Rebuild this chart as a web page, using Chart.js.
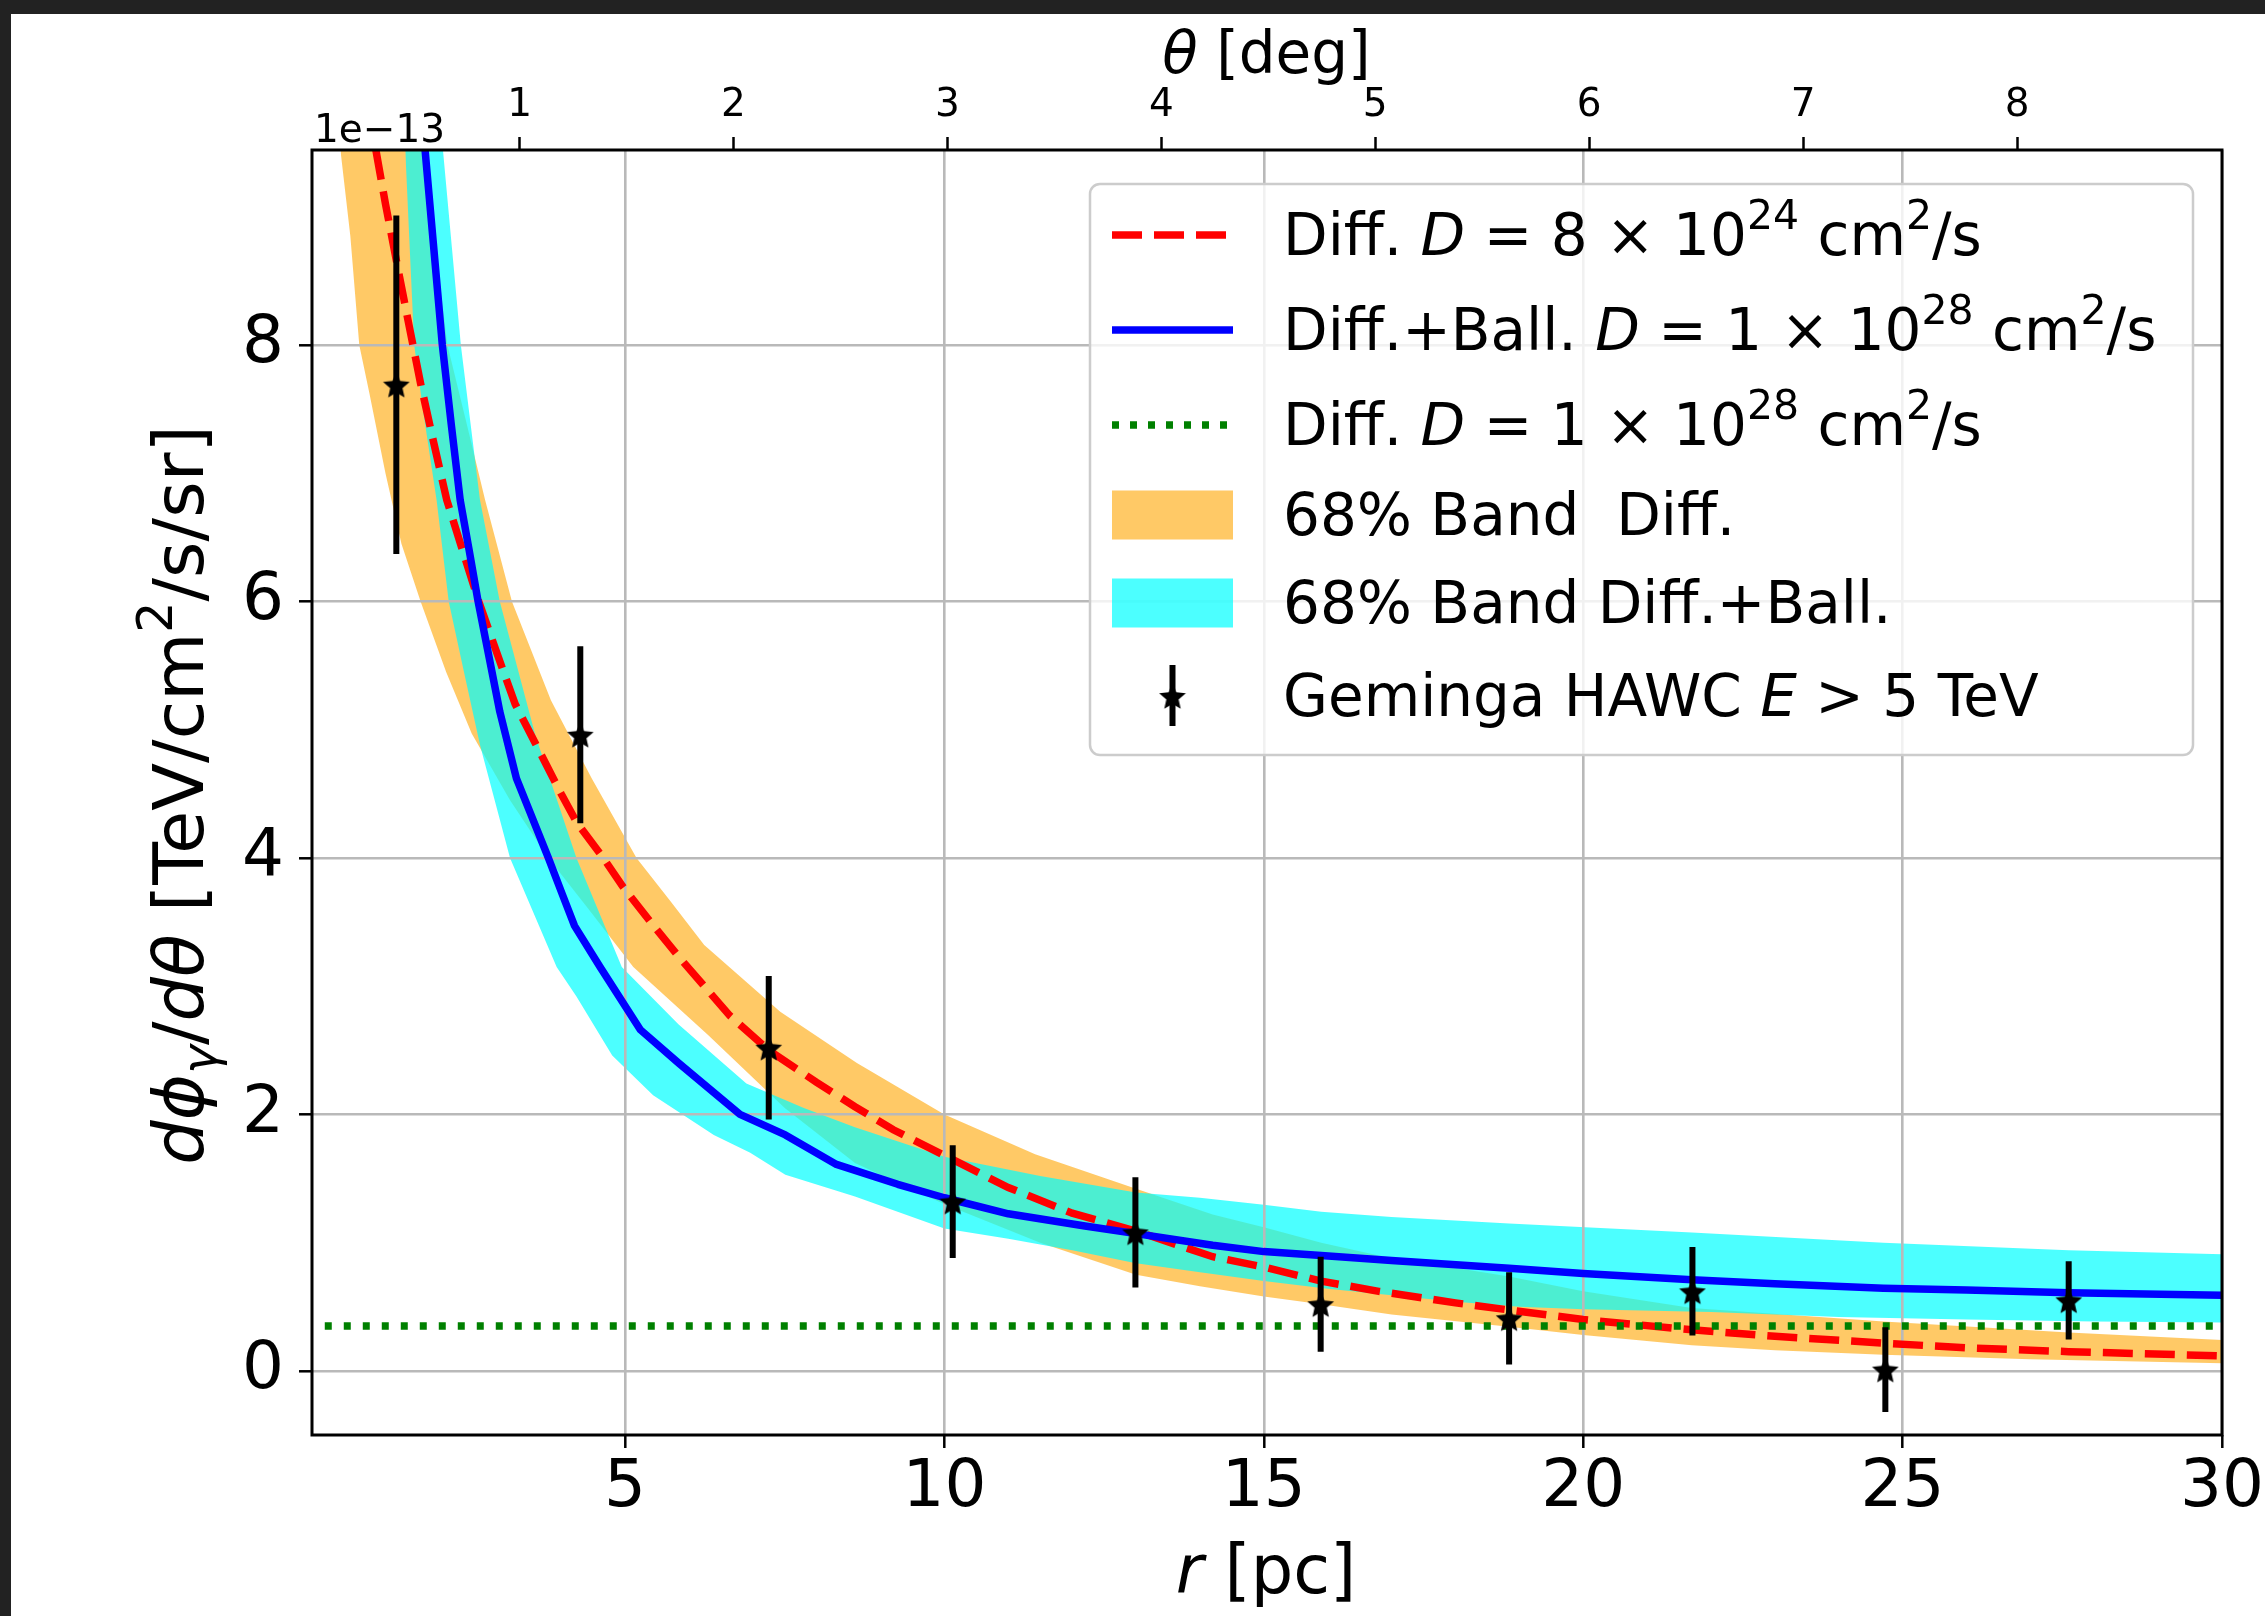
<!DOCTYPE html>
<html lang="en">
<head>
<meta charset="UTF-8">
<title>Geminga HAWC - radial profile</title>
<script src="https://cdn.jsdelivr.net/npm/chart.js"></script>
<style>
  html, body { margin: 0; padding: 0; background: #222; overflow: hidden; }
  #folha { position: absolute; left: 11px; top: 14px; width: 2254px; height: 1602px; background: #fff; }
</style>
</head>
<body>
<div id="folha"><canvas id="grafico" width="2254" height="1602"></canvas></div>
<script>
const FONT = '"DejaVu Sans"';

// axis ranges
const X_MIN = 0.1, X_MAX = 30;
const Y_MIN = -0.5, Y_MAX = 9.52;
const PC_PER_DEG = 3.349;

const rTicks = [5, 10, 15, 20, 25, 30];
const fluxTicks = [0, 2, 4, 6, 8];
const degTicks = [1, 2, 3, 4, 5, 6, 7, 8];

// Geminga HAWC E > 5 TeV (units of 1e-13)
const hawcR    = [1.42, 4.30, 7.25, 10.13, 12.99, 15.89, 18.84, 21.71, 24.73, 27.60];
const hawcFlux = [7.69, 4.96, 2.52, 1.32, 1.08, 0.52, 0.41, 0.62, 0.01, 0.55];
const hawcErr  = [1.32, 0.69, 0.56, 0.44, 0.43, 0.37, 0.36, 0.345, 0.33, 0.305];

// Diff. D = 8e24
const diffR    = [1.10, 1.25, 1.42, 1.6, 1.8, 2.0, 2.21, 2.5, 2.71, 3.0, 3.28, 3.6, 4.0, 4.24, 4.66, 4.96, 5.4, 5.84, 6.64, 7.25, 8.0, 8.6, 9.2, 10.0, 11.0, 12.0, 13.0, 14.2, 15.0, 15.9, 16.8, 18.0, 18.84, 20.0, 21.7, 23.0, 24.7, 26.0, 27.6, 30.0];
const diffFlux = [9.52, 9.10, 8.66, 8.2, 7.7, 7.25, 6.79, 6.33, 6.0, 5.59, 5.2, 4.89, 4.5, 4.28, 4.0, 3.78, 3.5, 3.23, 2.77, 2.50, 2.25, 2.06, 1.88, 1.68, 1.43, 1.23, 1.09, 0.89, 0.81, 0.70, 0.62, 0.53, 0.475, 0.40, 0.32, 0.27, 0.216, 0.18, 0.15, 0.117];

// Diff.+Ball. D = 1e28
const ballR    = [1.87, 2.0, 2.14, 2.28, 2.42, 2.56, 2.70, 2.87, 3.04, 3.30, 3.55, 3.80, 4.0, 4.21, 4.61, 5.24, 5.84, 6.8, 7.51, 8.31, 9.27, 10.0, 11.0, 12.2, 13.0, 14.2, 15.0, 15.9, 17.0, 18.84, 20.0, 21.7, 23.0, 24.7, 26.0, 27.6, 30.0];
const ballFlux = [9.52, 8.79, 8.0, 7.38, 6.79, 6.4, 6.0, 5.57, 5.14, 4.62, 4.31, 4.0, 3.74, 3.47, 3.15, 2.66, 2.40, 2.0, 1.84, 1.61, 1.455, 1.35, 1.225, 1.13, 1.07, 0.98, 0.93, 0.90, 0.86, 0.80, 0.76, 0.71, 0.68, 0.645, 0.63, 0.61, 0.59];

// Diff. D = 1e28
const diff28R    = [0.3, 30.0];
const diff28Flux = [0.35, 0.35];

// 68% band Diff.
const diffLoR = [0.545, 0.70, 0.84, 1.0, 1.25, 1.5, 1.8, 2.2, 2.6, 3.2, 3.8, 4.4, 5.13, 6.3, 7.5, 8.6, 10.0, 11.5, 13.0, 14.0, 15.0, 15.9, 17.0, 18.84, 20.0, 21.7, 23.0, 24.7, 27.0, 30.0];
const diffLo  = [9.52, 8.85, 8.0, 7.62, 7.0, 6.45, 6.0, 5.45, 4.97, 4.45, 4.0, 3.62, 3.15, 2.62, 2.05, 1.62, 1.30, 1.00, 0.75, 0.66, 0.58, 0.52, 0.44, 0.345, 0.28, 0.20, 0.16, 0.125, 0.09, 0.06];
const diffHiR = [0.545, 1.87, 2.05, 2.22, 2.5, 2.81, 3.23, 3.84, 4.48, 5.18, 5.7, 6.24, 7.43, 8.63, 10.0, 11.42, 13.0, 14.2, 15.0, 15.9, 16.8, 18.84, 20.0, 21.7, 24.7, 27.6, 30.0];
const diffHi  = [9.52, 9.52, 8.7, 8.0, 7.43, 6.79, 6.0, 5.23, 4.62, 4.0, 3.67, 3.32, 2.80, 2.40, 2.0, 1.69, 1.42, 1.22, 1.12, 1.0, 0.90, 0.735, 0.62, 0.49, 0.385, 0.30, 0.24];

// 68% band Diff.+Ball.
const ballLoR = [1.56, 1.63, 1.70, 1.85, 2.05, 2.24, 2.50, 2.73, 3.20, 3.93, 4.24, 4.80, 5.44, 6.39, 6.96, 7.51, 8.6, 10.0, 11.0, 12.0, 13.0, 14.0, 15.0, 16.0, 17.0, 18.0, 19.0, 20.0, 22.0, 24.0, 26.0, 28.0, 30.0];
const ballLo  = [9.52, 8.75, 8.0, 7.45, 6.79, 6.0, 5.4, 4.88, 4.0, 3.15, 2.92, 2.46, 2.15, 1.84, 1.70, 1.53, 1.36, 1.11, 1.03, 0.94, 0.84, 0.77, 0.70, 0.64, 0.59, 0.54, 0.50, 0.48, 0.46, 0.42, 0.40, 0.385, 0.377];
const ballHiR = [1.56, 2.15, 2.29, 2.43, 2.73, 3.04, 3.6, 4.24, 4.95, 5.84, 6.9, 7.8, 8.6, 10.0, 11.5, 13.0, 14.0, 15.0, 15.9, 17.0, 18.84, 21.7, 24.7, 27.6, 30.0];
const ballHi  = [9.52, 9.52, 8.76, 8.0, 6.79, 6.0, 4.95, 4.0, 3.15, 2.70, 2.24, 2.05, 1.90, 1.67, 1.52, 1.39, 1.35, 1.295, 1.24, 1.20, 1.15, 1.08, 1.0, 0.94, 0.91];

function pts(xs, ys) { return xs.map((x, i) => ({ x: x, y: ys[i] })); }

const errData = [];
hawcR.forEach((r, i) => {
  errData.push({ x: r, y: hawcFlux[i] - hawcErr[i] }, { x: r, y: hawcFlux[i] + hawcErr[i] }, { x: r, y: null });
});

function starImage(size) {
  const c = document.createElement('canvas');
  c.width = c.height = size;
  const g = c.getContext('2d');
  g.fillStyle = '#000';
  g.beginPath();
  for (let i = 0; i < 10; i++) {
    const a = -Math.PI / 2 + i * Math.PI / 5;
    const rr = i % 2 ? size * 0.23 : size * 0.5;
    g.lineTo(size / 2 + rr * Math.cos(a), size / 2 + 1.5 + rr * Math.sin(a));
  }
  g.closePath();
  g.fill();
  return c;
}
const star = starImage(28);

const NONE = 'rgba(0,0,0,0)';
const ORANGE = 'rgba(255,165,0,0.6)';
const CYAN = 'rgba(0,255,255,0.7)';
const LW = 7.5;

function fontOf(run, size) {
  const s = run.sup || run.sub ? Math.round(size * 0.7) : size;
  return (run.it ? 'italic ' : '') + s + 'px ' + FONT;
}
function runsWidth(ctx, runs, size) {
  let w = 0;
  runs.forEach(r => { ctx.font = fontOf(r, size); w += ctx.measureText(r.t).width; });
  return w;
}
function drawRuns(ctx, runs, x, y, size, align) {
  let cx = align === 'center' ? x - runsWidth(ctx, runs, size) / 2 : x;
  ctx.textAlign = 'left';
  ctx.textBaseline = 'alphabetic';
  ctx.fillStyle = '#000';
  runs.forEach(r => {
    ctx.font = fontOf(r, size);
    const dy = r.sup ? -size * 0.45 : (r.sub ? size * 0.2 : 0);
    ctx.fillText(r.t, cx, y + dy);
    cx += ctx.measureText(r.t).width;
  });
}

const legendRows = [
  [{ t: 'Diff. ' }, { t: 'D', it: true }, { t: ' = 8 × 10' }, { t: '24', sup: true }, { t: ' cm' }, { t: '2', sup: true }, { t: '/s' }],
  [{ t: 'Diff.+Ball. ' }, { t: 'D', it: true }, { t: ' = 1 × 10' }, { t: '28', sup: true }, { t: ' cm' }, { t: '2', sup: true }, { t: '/s' }],
  [{ t: 'Diff. ' }, { t: 'D', it: true }, { t: ' = 1 × 10' }, { t: '28', sup: true }, { t: ' cm' }, { t: '2', sup: true }, { t: '/s' }],
  [{ t: '68% Band  Diff.' }],
  [{ t: '68% Band Diff.+Ball.' }],
  [{ t: 'Geminga HAWC ' }, { t: 'E', it: true }, { t: ' > 5 TeV' }]
];

const decor = {
  id: 'decor',
  afterDatasetsDraw(chart) {
    const { ctx, chartArea: a } = chart;
    ctx.save();
    ctx.strokeStyle = '#000';
    ctx.lineWidth = 3;
    ctx.strokeRect(a.left, a.top, a.right - a.left, a.bottom - a.top);
    ctx.restore();
  },
  afterDraw(chart) {
    const ctx = chart.ctx;
    ctx.save();

    // legend box
    const bx0 = 1079, by0 = 170, bx1 = 2182, by1 = 741, rad = 10;
    ctx.beginPath();
    ctx.moveTo(bx0 + rad, by0);
    ctx.arcTo(bx1, by0, bx1, by1, rad);
    ctx.arcTo(bx1, by1, bx0, by1, rad);
    ctx.arcTo(bx0, by1, bx0, by0, rad);
    ctx.arcTo(bx0, by0, bx1, by0, rad);
    ctx.closePath();
    ctx.fillStyle = 'rgba(255,255,255,0.8)';
    ctx.fill();
    ctx.strokeStyle = '#cccccc';
    ctx.lineWidth = 2.5;
    ctx.stroke();

    const rows = [221, 316, 411, 501, 589, 682];
    const hx0 = 1101, hx1 = 1222, tx = 1272;
    function handleLine(y, color, dash) {
      ctx.beginPath();
      ctx.setLineDash(dash);
      ctx.strokeStyle = color;
      ctx.lineWidth = LW;
      ctx.moveTo(hx0, y);
      ctx.lineTo(hx1, y);
      ctx.stroke();
      ctx.setLineDash([]);
    }
    handleLine(rows[0], '#ff0000', [30, 12]);
    handleLine(rows[1], '#0000ff', []);
    handleLine(rows[2], '#008000', [7, 11]);
    ctx.fillStyle = ORANGE;
    ctx.fillRect(hx0, rows[3] - 24.5, hx1 - hx0, 49);
    ctx.fillStyle = CYAN;
    ctx.fillRect(hx0, rows[4] - 24.5, hx1 - hx0, 49);
    const cx = (hx0 + hx1) / 2;
    ctx.beginPath();
    ctx.strokeStyle = '#000';
    ctx.lineWidth = 6;
    ctx.moveTo(cx, rows[5] - 31);
    ctx.lineTo(cx, rows[5] + 30);
    ctx.stroke();
    ctx.drawImage(star, cx - star.width / 2, rows[5] - star.height / 2);

    legendRows.forEach((runs, i) => drawRuns(ctx, runs, tx, rows[i] + 20, 58, 'left'));

    // axis titles
    drawRuns(ctx, [{ t: 'θ', it: true }, { t: ' [deg]' }], 1255.5, 59, 58, 'center');
    drawRuns(ctx, [{ t: 'r', it: true }, { t: ' [pc]' }], 1255, 1579, 67, 'center');
    drawRuns(ctx, [{ t: '1e\u221213' }], 303, 128, 39, 'left');

    ctx.save();
    ctx.translate(192, 781);
    ctx.rotate(-Math.PI / 2);
    drawRuns(ctx, [
      { t: 'd', it: true }, { t: 'ϕ', it: true }, { t: 'γ', it: true, sub: true }, { t: '/' },
      { t: 'd', it: true }, { t: 'θ', it: true }, { t: ' [TeV/cm' }, { t: '2', sup: true }, { t: '/s/sr]' }
    ], 0, 0, 70, 'center');
    ctx.restore();

    ctx.restore();
  }
};

function fixBox(size) {
  return function (ax) {
    if (ax.isHorizontal()) ax.height = size; else ax.width = size;
    ax.paddingLeft = ax.paddingRight = ax.paddingTop = ax.paddingBottom = 0;
  };
}
function setTicks(list) {
  return function (ax) { ax.ticks = list.map(v => ({ value: v })); };
}

const GRID = '#b9b9b9';

const ctx = document.getElementById('grafico').getContext('2d');
new Chart(ctx, {
  type: 'line',
  data: {
    datasets: [
      { data: pts(hawcR, hawcFlux), showLine: false, pointStyle: star, pointRadius: 6, order: 0 },
      { data: errData, borderColor: '#000', borderWidth: 6, pointRadius: 0, spanGaps: false, order: 1 },
      { data: pts(diff28R, diff28Flux), borderColor: '#008000', borderWidth: LW, borderDash: [7, 12], pointRadius: 0, order: 2 },
      { data: pts(ballR, ballFlux), borderColor: '#0000ff', borderWidth: LW, pointRadius: 0, borderJoinStyle: 'round', order: 3 },
      { data: pts(diffR, diffFlux), borderColor: '#ff0000', borderWidth: LW, borderDash: [30, 12], pointRadius: 0, order: 4 },
      { data: pts(ballHiR, ballHi), borderColor: NONE, borderWidth: 0, pointRadius: 0, fill: 6, backgroundColor: CYAN, order: 6 },
      { data: pts(ballLoR, ballLo), borderColor: NONE, borderWidth: 0, pointRadius: 0, order: 7 },
      { data: pts(diffHiR, diffHi), borderColor: NONE, borderWidth: 0, pointRadius: 0, fill: 8, backgroundColor: ORANGE, order: 8 },
      { data: pts(diffLoR, diffLo), borderColor: NONE, borderWidth: 0, pointRadius: 0, order: 9 }
    ]
  },
  options: {
    responsive: false,
    animation: false,
    events: [],
    layout: { padding: { left: 0, right: 43, top: 0, bottom: 0 } },
    elements: { line: { tension: 0 } },
    plugins: {
      legend: { display: false },
      tooltip: { enabled: false },
      filler: { drawTime: 'beforeDraw' }
    },
    scales: {
      x: {
        type: 'linear', position: 'bottom', min: X_MIN, max: X_MAX,
        afterBuildTicks: setTicks(rTicks),
        afterFit: fixBox(181),
        ticks: { font: { family: 'DejaVu Sans', size: 66, lineHeight: 1 }, color: '#000', padding: 8, maxRotation: 0, autoSkip: false, callback: v => String(v) },
        grid: { color: GRID, lineWidth: 2.6, tickColor: '#000', tickLength: 13, tickWidth: 2.5 },
        border: { display: false }
      },
      xTop: {
        type: 'linear', position: 'top', min: X_MIN / PC_PER_DEG, max: X_MAX / PC_PER_DEG,
        afterBuildTicks: setTicks(degTicks),
        afterFit: fixBox(136),
        ticks: { font: { family: 'DejaVu Sans', size: 39, lineHeight: 1 }, color: '#000', padding: 12, maxRotation: 0, autoSkip: false, callback: v => String(v) },
        grid: { drawOnChartArea: false, tickColor: '#000', tickLength: 13, tickWidth: 2.5 },
        border: { display: false }
      },
      y: {
        type: 'linear', position: 'left', min: Y_MIN, max: Y_MAX,
        afterBuildTicks: setTicks(fluxTicks),
        afterFit: fixBox(301),
        ticks: { font: { family: 'DejaVu Sans', size: 66, lineHeight: 1 }, color: '#000', padding: 15, autoSkip: false, callback: v => String(v) },
        grid: { color: GRID, lineWidth: 2.6, tickColor: '#000', tickLength: 13, tickWidth: 2.5 },
        border: { display: false }
      }
    }
  },
  plugins: [decor]
});
</script>
</body>
</html>
